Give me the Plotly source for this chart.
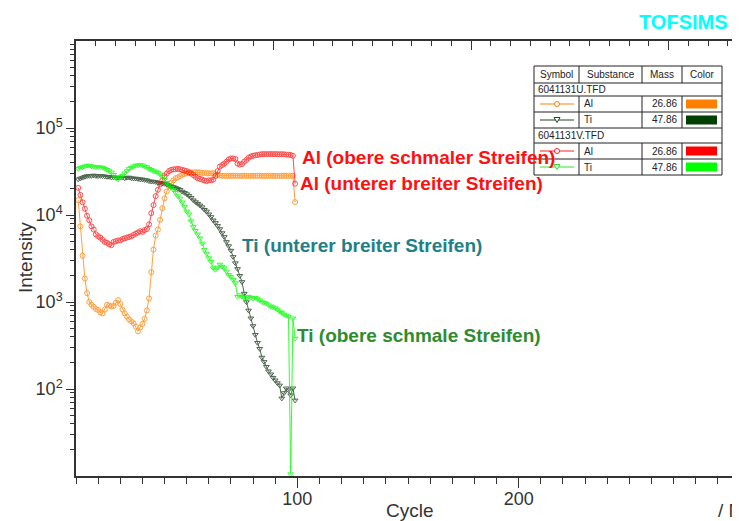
import plotly.graph_objects as go

cycles = list(range(1, 100))

al_u = [14800, 7400, 3400, 1860, 1260, 1000, 930, 880, 830, 810,
        760, 740, 820, 930, 910, 890, 900, 980, 1050, 950,
        820, 740, 680, 630, 600, 570, 520, 460, 510, 560,
        640, 800, 1100, 2200, 4000, 5800, 6800, 8800, 12000, 15500,
        18600, 21500, 23500, 25000, 26500, 27000, 28000, 29000, 29500, 30200,
        30500, 30900, 30900, 31000, 30900, 30900, 30500, 30500, 30200, 30200,
        30000, 30200, 29500, 29000, 28500, 28200, 28300, 28100, 28200, 28200,
        28300, 28200, 28100, 28200, 28200, 28300, 28200, 28100, 28200, 28200,
        28200, 28300, 28200, 28200, 28100, 28200, 28200, 28300, 28200, 28200,
        28100, 28200, 28200, 28300, 28200, 28200, 28200, 28200, 14100]

al_v = [20500, 17000, 14000, 11800, 9800, 8700, 7400, 6800, 6000, 5700,
        5500, 5200, 4900, 4800, 4600, 4500, 4900, 5000, 5100, 5100,
        5300, 5400, 5500, 5600, 5700, 5900, 6100, 6300, 6500, 6400,
        6700, 6900, 7800, 10500, 13000, 16500, 19500, 22500, 25000, 28000,
        30000, 32000, 33000, 33500, 33500, 34000, 33500, 33000, 32500, 32000,
        31000, 30000, 28800, 27500, 26500, 26000, 25500, 25000, 24500, 25000,
        25000, 25500, 28000, 32000, 36000, 37500, 38900, 41000, 43500, 44700,
        44700, 44000, 39000, 38000, 38500, 41000, 43000, 45500, 47000, 48000,
        48500, 49000, 49500, 50000, 50100, 50000, 50100, 50200, 50000, 50100,
        50000, 49800, 50000, 49800, 49500, 49300, 49000, 47900, 22900]

ti_u = [25700, 26300, 26900, 27500, 28000, 28200, 28200, 28500, 28200, 28000,
        28200, 28000, 27800, 27500, 27500, 27000, 27200, 26900, 26900, 27000,
        26900, 26500, 26900, 27000, 26500, 26300, 26300, 26000, 25700, 25700,
        25300, 25100, 24500, 24300, 24200, 24000, 23500, 23500, 23000, 22900,
        22400, 21900, 21400, 21000, 20500, 20000, 19500, 18600, 18000, 17400,
        16600, 15800, 14800, 14100, 13500, 12900, 12300, 11500, 11000, 10200,
        9500, 8700, 8100, 7500, 6900, 6200, 5600, 4900, 4400, 3900,
        3300, 2800, 2400, 2000, 1700, 1250, 1000, 800, 650, 530,
        420, 340, 290, 230, 205, 180, 160, 148, 135, 126,
        117, 110, 78, 90, 102, 97, 85, 102, 74]

ti_v = [33900, 35000, 35500, 36300, 37000, 37000, 36300, 36000, 35500, 35500,
        35500, 35000, 34000, 33100, 32000, 30900, 29000, 26900, 25700, 27000,
        28200, 30200, 32000, 33900, 35000, 36300, 37200, 37200, 37500, 37200,
        36000, 35500, 34000, 33100, 32000, 31600, 30500, 29500, 27500, 25500,
        23500, 22000, 20500, 19500, 18000, 16500, 15500, 14000, 12500, 11000,
        10200, 8500, 7300, 6600, 6000, 5400, 4700, 4000, 3600, 3200,
        2900, 2450, 2350, 2500, 2700, 2550, 2450, 2250, 2050, 1950,
        1800, 1650, 1150, 1200, 1150, 1120, 1100, 1150, 1120, 1100,
        1120, 1080, 1050, 1000, 980, 960, 920, 890, 870, 850,
        820, 780, 750, 720, 700, 680, 10.5, 650, 380]

x_ticks = [100, 200]
y_ticks = [1e2, 1e3, 1e4, 1e5]
y_tick_text = ["10<sup>2</sup>", "10<sup>3</sup>", "10<sup>4</sup>", "10<sup>5</sup>"]
y_minor = [k * 10 ** d for d in range(1, 6) for k in range(2, 10)]

table_files = ["6041131U.TFD", "6041131V.TFD"]
table_substances = ["Al", "Ti"]
table_masses = ["26.86", "47.86"]

C_AL_U = "#FF8000"
C_TI_U = "#004000"
C_AL_V = "#FF0000"
C_TI_V = "#00FF00"

FONT = "Liberation Sans, Arial, sans-serif"

# page offset of the figure inside the browser window (body margin)
OFF = 8
FIG_W, FIG_H = 740 - OFF, 521 - OFF

fig = go.Figure()

def add_series(y, color, symbol, line_color=None, opacity=0.75):
    fig.add_trace(go.Scatter(
        x=cycles, y=y, mode="lines+markers",
        line=dict(color=line_color or color, width=1),
        marker=dict(symbol=symbol, size=5, color=color, line=dict(width=1, color=color)),
        opacity=opacity, hoverinfo="skip"))

add_series(al_u, C_AL_U, "circle-open")
add_series(ti_u, "#2E4A2E", "triangle-down-open", opacity=0.85)
add_series(al_v, C_AL_V, "circle-open", opacity=0.7)
add_series(ti_v, C_TI_V, "triangle-down-open", opacity=0.8)

# invisible trace so that the top axis is drawn
fig.add_trace(go.Scatter(x=[1.0], y=[1e-3], xaxis="x2", yaxis="y", mode="markers",
                         marker=dict(size=1, color="rgba(0,0,0,0)"), showlegend=False, hoverinfo="skip"))

# plot area in window pixels
L, T, R, B = 76, 41, 740, 476
W, H = R - L, B - T

def px(x):
    return (x - L) / W

def py(y):
    return (B - y) / H

shapes = []
annotations = []

# table
tl, tr = 534, 722
c1, c2, c3 = 579, 642, 682
rows = [66, 83, 96, 112, 128, 143, 159, 175]
shapes.append(dict(type="rect", xref="paper", yref="paper", x0=px(tl), x1=px(tr), y0=py(rows[0]), y1=py(rows[-1]),
                   line=dict(color="#222", width=1), fillcolor="white", layer="above"))
for r in rows[1:-1]:
    shapes.append(dict(type="line", xref="paper", yref="paper", x0=px(tl), x1=px(tr), y0=py(r), y1=py(r),
                       line=dict(color="#222", width=1), layer="above"))
for (ya, yb) in [(66, 83), (96, 128), (143, 175)]:
    for c in (c1, c2, c3):
        shapes.append(dict(type="line", xref="paper", yref="paper", x0=px(c), x1=px(c), y0=py(ya), y1=py(yb),
                           line=dict(color="#222", width=1), layer="above"))

def tt(x, y, text, anchor="left", size=10):
    annotations.append(dict(x=px(x), y=py(y), xref="paper", yref="paper", text=text, showarrow=False,
                            xanchor=anchor, yanchor="middle", font=dict(family=FONT, size=size, color="#222")))

tt((tl + c1) / 2, 74.5, "Symbol", "center")
tt((c1 + c2) / 2, 74.5, "Substance", "center")
tt((c2 + c3) / 2, 74.5, "Mass", "center")
tt((c3 + tr) / 2, 74.5, "Color", "center")
tt(536, 89.5, table_files[0])
tt(536, 135.5, table_files[1])

row_specs = [
    (104, table_substances[0], table_masses[0], C_AL_U, "#FF8000", "circle"),
    (120, table_substances[1], table_masses[1], C_TI_U, "#1E4A1E", "tri"),
    (151, table_substances[0], table_masses[0], C_AL_V, "#FF2020", "circle"),
    (167, table_substances[1], table_masses[1], C_TI_V, "#30E030", "tri"),
]
for (yc, sub, mass, sw, lc, sym) in row_specs:
    tt(582, yc, sub)
    tt(679, yc, mass, "right")
    shapes.append(dict(type="rect", xref="paper", yref="paper", x0=px(686), x1=px(717), y0=py(yc - 4.5), y1=py(yc + 4.5),
                       line=dict(width=0), fillcolor=sw, layer="above"))
    shapes.append(dict(type="line", xref="paper", yref="paper", x0=px(540), x1=px(574), y0=py(yc), y1=py(yc),
                       line=dict(color=lc, width=1), layer="above"))
    if sym == "circle":
        shapes.append(dict(type="circle", xref="paper", yref="paper", x0=px(554.5), x1=px(559.5), y0=py(yc - 2.5), y1=py(yc + 2.5),
                           line=dict(color=lc, width=1), fillcolor="white", layer="above"))
    else:
        path = "M {} {} L {} {} L {} {} Z".format(px(554), py(yc - 2.5), px(560), py(yc - 2.5), px(557), py(yc + 2.5))
        shapes.append(dict(type="path", xref="paper", yref="paper", path=path,
                           line=dict(color=lc, width=1), fillcolor="white", layer="above"))

# labels on curves
def lab(x, y, text, color, size=19):
    annotations.append(dict(x=px(x), y=py(y), xref="paper", yref="paper", text="<b>" + text + "</b>", showarrow=False,
                            xanchor="left", yanchor="middle", font=dict(family=FONT, size=size, color=color)))

lab(300, 157, "Al (obere schmaler Streifen)", "#FF1010")
lab(298, 184, "Al (unterer breiter Streifen)", "#FF1010")
lab(240, 245, "Ti (unterer breiter Streifen)", "#1E8087")
lab(295, 335, "Ti (obere schmale Streifen)", "#2E8B2E")

# title and axis titles
annotations.append(dict(x=px(683), y=py(22), xref="paper", yref="paper", text="<b>TOFSIMS</b>", showarrow=False,
                        xanchor="center", yanchor="middle", font=dict(family=FONT, size=20, color="#00FFFF")))
annotations.append(dict(x=px(410), y=py(510), xref="paper", yref="paper", text="Cycle", showarrow=False,
                        xanchor="center", yanchor="middle", font=dict(family=FONT, size=19, color="#333")))
annotations.append(dict(x=px(716), y=py(510), xref="paper", yref="paper", text="/ N", showarrow=False,
                        xanchor="left", yanchor="middle", font=dict(family=FONT, size=19, color="#333")))
annotations.append(dict(x=px(25), y=py(258), xref="paper", yref="paper", text="Intensity", showarrow=False, textangle=-90,
                        xanchor="center", yanchor="middle", font=dict(family=FONT, size=19, color="#333")))

fig.update_layout(
    width=FIG_W, height=FIG_H,
    margin=dict(l=L - OFF, r=FIG_W - (R - OFF), t=T - OFF, b=FIG_H - (B - OFF)),
    paper_bgcolor="white", plot_bgcolor="white",
    showlegend=False,
    font=dict(family=FONT, color="#333"),
    xaxis=dict(range=[0, 300], tickmode="array", tickvals=x_ticks, ticks="outside", ticklen=10, tickwidth=1,
               tickcolor="#333", showline=True, linecolor="#333", linewidth=1.5, showgrid=False, zeroline=False,
               tickfont=dict(family=FONT, size=18, color="#333"), ticklabelstandoff=-4,
               minor=dict(ticks="outside", ticklen=6, tickwidth=1, tickcolor="#333", dtick=10, tick0=0, showgrid=False)),
    xaxis2=dict(range=[0, W / 197.5], overlaying="x", side="top", anchor="y", dtick=1, tick0=0,
                ticks="inside", ticklen=9, tickwidth=1, tickcolor="#333", showticklabels=False,
                showline=True, linecolor="#333", linewidth=1.5, showgrid=False, zeroline=False,
                minor=dict(ticks="inside", ticklen=5, tickwidth=1, tickcolor="#333", dtick=0.1, tick0=0, showgrid=False)),
    yaxis=dict(type="log", range=[1, 6], tickmode="array", tickvals=y_ticks, ticktext=y_tick_text,
               ticks="outside", ticklen=8, tickwidth=1, tickcolor="#333", showline=True, linecolor="#333",
               linewidth=1.5, showgrid=False, zeroline=False, tickfont=dict(family=FONT, size=18, color="#333"),
               minor=dict(ticks="outside", ticklen=4, tickwidth=1, tickcolor="#333", tickmode="array",
                          tickvals=y_minor, showgrid=False)),
    shapes=shapes, annotations=annotations,
)

fig.write_html("out.html")
